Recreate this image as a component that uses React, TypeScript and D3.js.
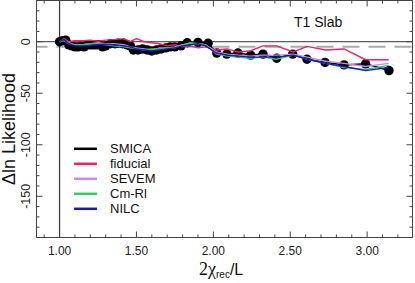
import * as d3 from 'd3';
import React, { useEffect, useRef } from 'react';

// SMICA points (x = 2chi_rec/L, y = delta ln likelihood)
const smicaX = [1.0, 1.02, 1.04, 1.06, 1.08, 1.1, 1.12, 1.14, 1.16, 1.18, 1.2, 1.22, 1.24, 1.26, 1.28, 1.3, 1.33, 1.36, 1.38, 1.41, 1.44, 1.46, 1.48, 1.51, 1.54, 1.57, 1.6, 1.63, 1.66, 1.69, 1.72, 1.75, 1.79, 1.83, 1.9, 1.966, 2.022, 2.087, 2.16, 2.243, 2.323, 2.412, 2.516, 2.609, 2.726, 2.85, 2.99, 3.142];
const smicaY = [0, 1, 1.5, -3, -4, -5, -5, -4.5, -5, -3, -3, -3, -3, -3, -5, -4, -2, -2, -1.5, -2, -3, -4, -8, -8, -7, -8, -9, -8, -7, -6, -5, -5, -4, -1, -0.6, -1.5, -11, -12, -11, -13, -12, -16, -12, -17, -20, -22.5, -21.5, -28];

// the other maps, on a common grid
const lineX = [1.0, 1.03, 1.06, 1.1, 1.15, 1.2, 1.25, 1.3, 1.35, 1.42, 1.46, 1.5, 1.55, 1.6, 1.65, 1.7, 1.75, 1.8, 1.85, 1.9, 1.95, 2.02, 2.09, 2.16, 2.24, 2.32, 2.41, 2.52, 2.61, 2.73, 2.85, 2.99, 3.14];
const fiducialY = [0, 3, 0, 1, 1, 1.5, 0.5, 1.5, 2, 3, 0, 3, 0, -1, -2, -4, -3, -5, -4, -6, -5, -8, -7, -10, -9, -4, -4, -10, -4.5, -8, -7, -17.5, -17.5];
const sevemY = [0, 1.5, -1, -3, -3, -2, -1, -2, -2, -3, -5, -6, -7, -8, -6, -6, -5, -3, -2, -2, -3, -10, -12, -13, -14, -13, -13, -12, -15, -19, -21, -24, -21];
const cmrlY = [0, 1, -2, -3, -3, -2, -2, -3, -4, -5, -6, -7, -8, -7, -7, -6, -6, -3, -1, -2, -3, -12, -14, -15, -16, -15, -17, -13, -17, -21, -25, -27, -23];
const nilcY = [0, 2, -2, -4, -4, -3.5, -3, -2.5, -3, -4, -5, -7, -8, -9, -8, -7, -6, -4, -3, -2, -4, -11, -13, -14, -15, -15, -15, -13, -17, -21, -24, -28, -25];

const legendNames = ['SMICA', 'fiducial', 'SEVEM', 'Cm-Rl', 'NILC'];
const legendColors = ['#000000', '#f0206a', '#cc88f0', '#33cc66', '#1a1ab4'];

const xTicks = [1.0, 1.5, 2.0, 2.5, 3.0];
const yTicks = [0, -50, -100, -150];

const App = () => {
  const ref = useRef<SVGSVGElement>(null);

  useEffect(() => {
    document.body.style.margin = '0';
    const svg = d3.select(ref.current);
    svg.selectAll('*').remove();

    const left = 36.5, right = 412.5, top = 0.5, bottom = 237.5;
    const font = 'Liberation Sans, Arial, Helvetica, sans-serif';

    const x = d3.scaleLinear().domain([0.85, 3.295]).range([left, right]);
    const y = d3.scaleLinear().domain([40, -190]).range([top, bottom]);

    const g = svg.append('g');

    // reference lines
    g.append('line')
      .attr('x1', left).attr('x2', right)
      .attr('y1', y(-5)).attr('y2', y(-5))
      .attr('stroke', '#aaaaaa').attr('stroke-width', 2)
      .attr('stroke-dasharray', '17,9').attr('stroke-dashoffset', -20);
    g.append('line')
      .attr('x1', left).attr('x2', right)
      .attr('y1', y(0)).attr('y2', y(0))
      .attr('stroke', '#333').attr('stroke-width', 1);
    g.append('line')
      .attr('x1', x(1)).attr('x2', x(1))
      .attr('y1', top).attr('y2', bottom)
      .attr('stroke', '#333').attr('stroke-width', 1.2);

    // SMICA line and points
    const smicaLine = d3.line<number>()
      .x((_, i) => x(smicaX[i]))
      .y(d => y(d));
    g.append('path')
      .attr('d', smicaLine(smicaY))
      .attr('fill', 'none').attr('stroke', '#000').attr('stroke-width', 1.5);
    g.selectAll('circle.smica')
      .data(smicaY)
      .enter()
      .append('circle')
      .attr('class', 'smica')
      .attr('cx', (_, i) => x(smicaX[i]))
      .attr('cy', d => y(d))
      .attr('r', 4.7)
      .attr('fill', '#000');

    const line = d3.line<number>()
      .x((_, i) => x(lineX[i]))
      .y(d => y(d));

    [fiducialY, sevemY, cmrlY, nilcY].forEach((s, k) => {
      g.append('path')
        .attr('d', line(s))
        .attr('fill', 'none')
        .attr('stroke', legendColors[k + 1])
        .attr('stroke-width', 1.4);
    });

    // frame
    g.append('rect')
      .attr('x', left).attr('y', top)
      .attr('width', right - left).attr('height', bottom - top)
      .attr('fill', 'none').attr('stroke', '#444');

    // ticks on all four sides, pointing inward
    const xMinor = d3.range(0.9, 3.3, 0.1);
    xMinor.forEach(v => {
      const major = xTicks.some(t => Math.abs(t - v) < 1e-6);
      const len = major ? 6 : 3;
      g.append('line').attr('x1', x(v)).attr('x2', x(v))
        .attr('y1', bottom).attr('y2', bottom - len).attr('stroke', '#444');
      g.append('line').attr('x1', x(v)).attr('x2', x(v))
        .attr('y1', top).attr('y2', top + len).attr('stroke', '#444');
    });
    const yMinor = d3.range(-180, 41, 10);
    yMinor.forEach(v => {
      const major = v % 50 === 0;
      const len = major ? 6 : 3;
      g.append('line').attr('x1', left).attr('x2', left + len)
        .attr('y1', y(v)).attr('y2', y(v)).attr('stroke', '#444');
      g.append('line').attr('x1', right).attr('x2', right - len)
        .attr('y1', y(v)).attr('y2', y(v)).attr('stroke', '#444');
    });

    // tick labels
    g.selectAll('text.xt')
      .data(xTicks)
      .enter()
      .append('text')
      .attr('class', 'xt')
      .attr('x', d => x(d))
      .attr('y', 255)
      .attr('text-anchor', 'middle')
      .attr('font-family', font).attr('font-size', 12).attr('fill', '#222')
      .text(d => d.toFixed(2));
    g.selectAll('text.yt')
      .data(yTicks)
      .enter()
      .append('text')
      .attr('class', 'yt')
      .attr('transform', d => `translate(30,${y(d)}) rotate(-90)`)
      .attr('text-anchor', 'middle')
      .attr('font-family', font).attr('font-size', 12.5).attr('fill', '#222')
      .text(d => d.toString());

    // axis titles
    g.append('text')
      .attr('transform', 'translate(15,129) rotate(-90)')
      .attr('text-anchor', 'middle')
      .attr('font-family', font).attr('font-size', 18).attr('fill', '#111')
      .text('\u0394ln Likelihood');

    const xl = g.append('text')
      .attr('x', 199).attr('y', 275)
      .attr('fill', '#111');
    xl.append('tspan')
      .attr('font-family', 'Liberation Serif, Times New Roman, serif')
      .attr('font-size', 18)
      .text('2\u03c7');
    xl.append('tspan')
      .attr('font-family', font).attr('font-size', 10)
      .attr('dy', 3)
      .text('rec');
    xl.append('tspan')
      .attr('font-family', font).attr('font-size', 16)
      .attr('dy', -3)
      .text('/L');

    g.append('text')
      .attr('x', 294).attr('y', 26.5)
      .attr('font-family', font).attr('font-size', 14).attr('fill', '#111')
      .text('T1 Slab');

    // legend
    legendNames.forEach((name, i) => {
      const by = 153.3 + i * 15;
      g.append('line')
        .attr('x1', 74).attr('x2', 97)
        .attr('y1', by - 4.5).attr('y2', by - 4.5)
        .attr('stroke', legendColors[i]).attr('stroke-width', 2.5);
      g.append('text')
        .attr('x', 110).attr('y', by)
        .attr('font-family', font).attr('font-size', 13).attr('fill', '#111')
        .text(name);
    });
  }, []);

  return <svg ref={ref} width={415} height={283} style={{ display: 'block' }} />;
};

export default App;
